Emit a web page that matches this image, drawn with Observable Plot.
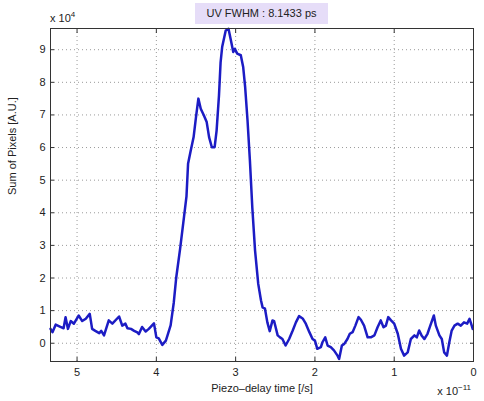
<!DOCTYPE html>
<html><head><meta charset="utf-8">
<script src="https://cdn.jsdelivr.net/npm/d3@7"></script>
<script src="https://cdn.jsdelivr.net/npm/@observablehq/plot@0.6"></script>
<style>
body{margin:0;background:#fff;}
#wrap{position:relative;width:484px;height:401px;font-family:"Liberation Sans",Arial,sans-serif;color:#222;}
.t{position:absolute;font-size:11px;line-height:11px;white-space:nowrap;}
.sup{font-size:8px;position:relative;top:-5px;}
#title{left:195px;top:3px;width:133px;height:21px;line-height:21px;text-align:center;background:#e6ddf8;}
</style></head><body><div id="wrap"></div>
<script>
// Piezo-delay time, units of 1e-11 s
const delay = [5.335,5.31,5.27,5.21,5.17,5.145,5.115,5.08,5.04,4.98,
4.935,4.89,4.84,4.81,4.77,4.72,4.695,4.66,4.60,4.555,
4.47,4.43,4.39,4.365,4.32,4.28,4.24,4.22,4.18,4.135,
4.095,4.03,4.00,3.97,3.925,3.88,3.86,3.82,3.78,3.75,
3.70,3.65,3.62,3.60,3.57,3.53,3.50,3.47,3.44,3.40,
3.365,3.335,3.30,3.265,3.24,3.21,3.19,3.17,3.125,3.09,
3.06,3.03,3.01,2.98,2.935,2.905,2.88,2.85,2.82,2.79,
2.755,2.715,2.68,2.66,2.63,2.60,2.57,2.535,2.515,2.47,
2.44,2.41,2.37,2.325,2.28,2.24,2.20,2.155,2.115,2.07,
2.03,2.00,1.97,1.925,1.905,1.87,1.84,1.80,1.76,1.715,
1.695,1.66,1.63,1.59,1.56,1.525,1.49,1.45,1.42,1.38,
1.335,1.295,1.25,1.21,1.17,1.135,1.105,1.075,1.04,1.00,
0.955,0.915,0.875,0.83,0.79,0.745,0.715,0.685,0.655,0.62,
0.58,0.545,0.50,0.475,0.43,0.40,0.37,0.335,0.305,0.275,
0.24,0.20,0.16,0.12,0.08,0.05,0.03,0.01];
// Sum of pixels, units of 1e4 A.U.
const pixelSum = [0.44,0.34,0.57,0.50,0.46,0.80,0.44,0.68,0.60,0.85,
0.68,0.75,0.90,0.44,0.38,0.31,0.38,0.24,0.70,0.60,
0.82,0.54,0.60,0.46,0.44,0.38,0.33,0.28,0.50,0.36,
0.44,0.61,0.18,0.15,-0.05,0.08,0.23,0.55,1.25,2.0,
2.9,3.9,4.5,5.5,5.86,6.32,6.93,7.5,7.19,6.98,
6.78,6.32,6.01,6.01,6.52,7.6,8.6,9.08,9.59,9.64,
9.29,8.93,9.03,8.88,8.83,8.47,7.85,6.83,5.6,4.17,
2.84,1.82,1.31,1.1,1.06,0.64,0.37,0.7,0.68,0.24,
0.18,0.13,-0.07,0.13,0.39,0.64,0.83,0.76,0.60,0.34,
0.13,0.08,-0.17,-0.12,0.03,0.18,-0.07,-0.12,-0.22,-0.38,
-0.48,-0.07,-0.02,0.13,0.29,0.34,0.54,0.80,0.72,0.54,
0.18,0.18,0.24,0.49,0.70,0.49,0.54,0.80,0.70,0.60,
0.29,-0.17,-0.38,-0.28,0.13,0.24,0.18,0.39,0.24,0.13,
0.29,0.54,0.85,0.54,0.24,0.13,-0.28,-0.38,0.03,0.39,
0.54,0.60,0.54,0.64,0.60,0.75,0.60,0.44];
const xTicks = [0,1,2,3,4,5];
const yTicks = [0,1,2,3,4,5,6,7,8,9];
const xDomain = [5.335, 0];
const yDomain = [-0.56, 9.65];
const titleText = "UV FWHM : 8.1433 ps";
const xLabel = "Piezo\u2013delay time [/s]";
const yLabel = "Sum of Pixels [A.U.]";

const data = delay.map((t, i) => ({t, v: pixelSum[i]}));
const blank = () => "";

const chart = Plot.plot({
  width: 484, height: 401,
  marginLeft: 50, marginRight: 11, marginTop: 28, marginBottom: 40,
  style: {fontFamily: "Liberation Sans, Arial, sans-serif", fontSize: "11px", color: "#222", background: "#fff"},
  x: {domain: xDomain, label: null},
  y: {domain: yDomain, label: null},
  marks: [
    Plot.gridX(xTicks, {stroke: "#9a9a9a", strokeOpacity: 1, strokeDasharray: "1,3"}),
    Plot.gridY(yTicks, {stroke: "#9a9a9a", strokeOpacity: 1, strokeDasharray: "1,3"}),
    Plot.line(data, {x: "t", y: "v", stroke: "#1c1cc4", strokeWidth: 2.5, strokeLinejoin: "round"}),
    Plot.frame({stroke: "#333"}),
    Plot.axisX(xTicks, {anchor: "bottom", tickSize: 0, tickPadding: 7, label: null}),
    Plot.axisX(xTicks, {anchor: "bottom", tickSize: -4, tickFormat: blank, label: null, stroke: "#333"}),
    Plot.axisX(xTicks, {anchor: "top", tickSize: -4, tickFormat: blank, label: null, stroke: "#333"}),
    Plot.axisY(yTicks, {anchor: "left", tickSize: 0, tickPadding: 5, label: null}),
    Plot.axisY(yTicks, {anchor: "left", tickSize: -4, tickFormat: blank, label: null, stroke: "#333"}),
    Plot.axisY(yTicks, {anchor: "right", tickSize: -4, tickFormat: blank, label: null, stroke: "#333"}),
    Plot.text([xLabel], {text: d => d, frameAnchor: "bottom", dy: 26.5, lineAnchor: "middle", fill: "#222"}),
    Plot.text([yLabel], {text: d => d, frameAnchor: "left", rotate: -90, dx: -38, fill: "#222"})
  ]
});
const wrap = document.getElementById("wrap");
wrap.appendChild(chart);

function addText(id, html, style) {
  const d = document.createElement("div");
  d.className = "t";
  if (id) d.id = id;
  d.innerHTML = html;
  Object.assign(d.style, style || {});
  wrap.appendChild(d);
}
addText("title", titleText);
addText(null, "x 10<span class='sup'>4</span>", {left: "50px", top: "13px"});
addText(null, "x 10<span class='sup'>\u221211</span>", {right: "13px", top: "386px"});
</script>
</body></html>
